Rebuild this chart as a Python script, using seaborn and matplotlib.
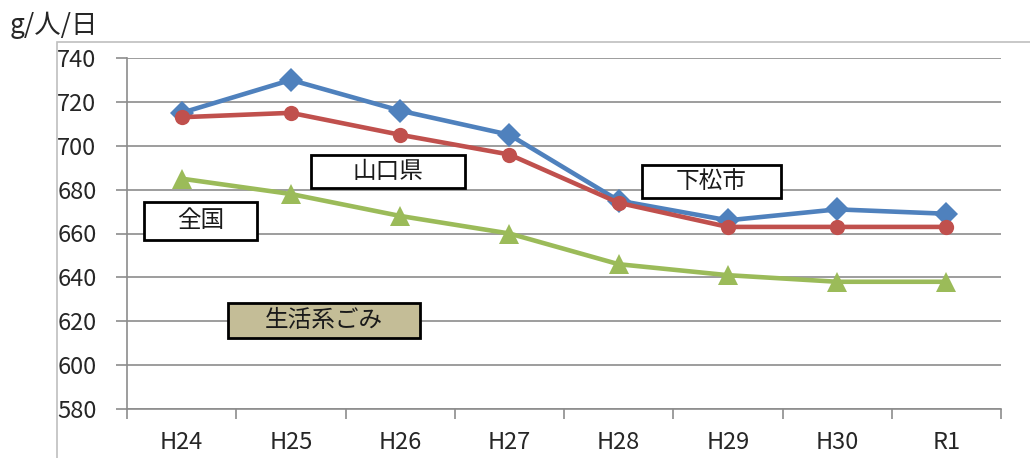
import matplotlib.pyplot as plt
import matplotlib.patches as mpatches
import pandas as pd
import seaborn as sns

years = ["H24", "H25", "H26", "H27", "H28", "H29", "H30", "R1"]
kudamatsu = [715, 730, 716, 705, 675, 666, 671, 669]
yamaguchi = [713, 715, 705, 696, 674, 663, 663, 663]
zenkoku = [685, 678, 668, 660, 646, 641, 638, 638]

W, H = 1030, 458
sns.set_style("white")
plt.rcParams["font.family"] = ["Noto Sans CJK JP", "DejaVu Sans"]

fig = plt.figure(figsize=(W / 100, H / 100), dpi=100)
ax = fig.add_axes([127 / W, 1 - 409 / H, (1001 - 127) / W, (409 - 58) / H])

# outer chart frame
fig.patches.append(mpatches.Rectangle((57 / W, -0.1), 1.1, 1 - 42 / H + 0.1,
                                      transform=fig.transFigure, fill=False,
                                      edgecolor="#BFBFBF", linewidth=1.2))

series = [
    (kudamatsu, "#4F81BD", "D", 12),
    (yamaguchi, "#C0504D", "o", 11),
    (zenkoku, "#9BBB59", "^", 15),
]
for vals, color, marker, ms in series:
    df = pd.DataFrame({"year": years, "v": vals})
    sns.lineplot(data=df, x="year", y="v", ax=ax, color=color, linewidth=3.3,
                 marker=marker, markersize=ms, markeredgewidth=0, sort=False)

ax.set_xlim(-0.5, len(years) - 0.5)
ax.set_ylim(580, 740)
ax.set_yticks(range(580, 741, 20))
ax.set_xlabel("")
ax.set_ylabel("")
ax.grid(axis="y", color="#8C8C8C", linewidth=1.2)
ax.set_axisbelow(True)
for s in ["top", "right"]:
    ax.spines[s].set_visible(False)
for s in ["left", "bottom"]:
    ax.spines[s].set_color("#8C8C8C")
    ax.spines[s].set_linewidth(1.2)

ax.set_xticks([i + 0.5 for i in range(-1, len(years))], minor=True)
ax.tick_params(axis="x", which="major", length=0, pad=16, labelsize=17, labelcolor="#262626")
ax.tick_params(axis="x", which="minor", length=7, color="#8C8C8C", width=1.2, direction="out")
ax.tick_params(axis="y", length=8, color="#8C8C8C", width=1.2, direction="out",
               labelsize=17, labelcolor="#262626", pad=14)
ax.tick_params(axis="y", left=True)
ax.tick_params(axis="x", which="minor", bottom=True)

fig.text(10 / W, 1 - 25 / H, "g/人/日", fontsize=19, va="center", ha="left", color="#262626")


def label_box(x0, y0, x1, y1, text, face="white"):
    fig.patches.append(mpatches.Rectangle((x0 / W, 1 - y1 / H), (x1 - x0) / W, (y1 - y0) / H,
                                          transform=fig.transFigure, facecolor=face,
                                          edgecolor="black", linewidth=2, zorder=5))
    fig.text((x0 + x1) / 2 / W, 1 - (y0 + y1) / 2 / H, text, fontsize=17,
             ha="center", va="center", zorder=6, color="#1a1a1a")


label_box(144, 202, 257, 240, "全国")
label_box(311, 155, 465, 188, "山口県")
label_box(642, 165, 781, 198, "下松市")
label_box(228, 303, 420, 338, "生活系ごみ", face="#C4BD97")

fig.savefig("out.png", dpi=100)
